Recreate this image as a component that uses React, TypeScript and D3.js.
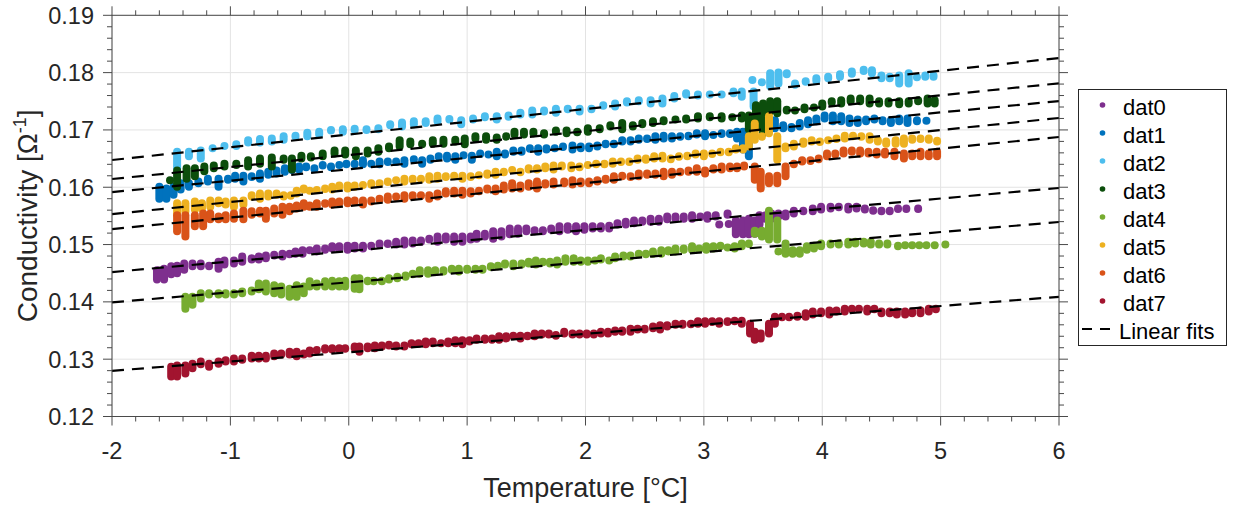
import React from "react";
import * as d3 from "d3";

type Cluster = [number, number, number]; // [temperature, value a, value b] (vertical run of measurements)

const seriesNames = ["dat0", "dat1", "dat2", "dat3", "dat4", "dat5", "dat6", "dat7"];
const seriesColors = ["#7E2F8E", "#0072BD", "#4DBEEE", "#0C4E0C", "#77AC30", "#EDB120", "#D95319", "#A2142F"];

const dat0: Cluster[] = [
  [-1.62,0.1455,0.1439],[-1.56,0.1458,0.1439],[-1.50,0.1462,0.1448],[-1.45,0.1463,0.1450],[-1.39,0.1467,0.1456],[-1.32,0.1467,0.1462],[-1.25,0.1467,0.1462],[-1.18,0.1463,0.1462],[-1.10,0.1470,0.1458],[-1.05,0.1472,0.1465],[-0.97,0.1472,0.1467],[-0.90,0.1479,0.1470],[-0.82,0.1476,0.1474],[-0.76,0.1479,0.1474],[-0.70,0.1481,0.1476],[-0.63,0.1482,0.1481],[-0.56,0.1484,0.1479],[-0.50,0.1484,0.1483],[-0.45,0.1488,0.1484],[-0.39,0.1490,0.1484],[-0.33,0.1490,0.1490],[-0.27,0.1493,0.1488],[-0.20,0.1493,0.1491],[-0.14,0.1497,0.1493],[-0.08,0.1497,0.1493],[-0.01,0.1498,0.1491],[0.05,0.1498,0.1493],[0.12,0.1498,0.1493],[0.19,0.1498,0.1497],[0.26,0.1502,0.1500],[0.33,0.1502,0.1501],[0.40,0.1505,0.1500],[0.47,0.1507,0.1500],[0.54,0.1507,0.1502],[0.61,0.1507,0.1505],[0.68,0.1510,0.1509],[0.75,0.1514,0.1505],[0.82,0.1514,0.1509],[0.89,0.1514,0.1505],[0.96,0.1514,0.1505],[1.03,0.1514,0.1509],[1.08,0.1519,0.1510],[1.15,0.1519,0.1514],[1.22,0.1523,0.1510],[1.29,0.1523,0.1514],[1.36,0.1528,0.1518],[1.43,0.1528,0.1519],[1.50,0.1528,0.1523],[1.57,0.1525,0.1523],[1.64,0.1525,0.1523],[1.71,0.1528,0.1526],[1.78,0.1532,0.1523],[1.85,0.1532,0.1526],[1.92,0.1532,0.1523],[1.99,0.1532,0.1526],[2.06,0.1532,0.1528],[2.13,0.1532,0.1528],[2.20,0.1533,0.1528],[2.27,0.1537,0.1535],[2.34,0.1540,0.1535],[2.41,0.1542,0.1537],[2.48,0.1542,0.1540],[2.55,0.1545,0.1540],[2.62,0.1545,0.1540],[2.69,0.1549,0.1544],[2.76,0.1549,0.1545],[2.83,0.1549,0.1545],[2.90,0.1551,0.1545],[2.97,0.1549,0.1548],[3.03,0.1551,0.1545],[3.10,0.1551,0.1549],[3.13,0.1535,0.1535],[3.20,0.1554,0.1552],[3.21,0.1536,0.1536],[3.27,0.1542,0.1518],[3.33,0.1542,0.1518],[3.38,0.1545,0.1518],[3.43,0.1542,0.1519],[3.47,0.1551,0.1535],[3.52,0.1551,0.1545],[3.57,0.1554,0.1545],[3.63,0.1554,0.1549],[3.69,0.1554,0.1549],[3.76,0.1559,0.1554],[3.84,0.1559,0.1558],[3.92,0.1563,0.1558],[3.99,0.1566,0.1561],[4.07,0.1566,0.1563],[4.14,0.1566,0.1565],[4.22,0.1566,0.1561],[4.29,0.1566,0.1563],[4.36,0.1563,0.1561],[4.43,0.1560,0.1559],[4.50,0.1559,0.1558],[4.57,0.1559,0.1558],[4.64,0.1563,0.1562],[4.71,0.1563,0.1562],[4.81,0.1563,0.1562],
];

const dat1: Cluster[] = [
  [-1.60,0.1601,0.1580],[-1.54,0.1598,0.1580],[-1.48,0.1601,0.1587],[-1.42,0.1607,0.1596],[-1.35,0.1607,0.1601],[-1.27,0.1610,0.1607],[-1.19,0.1615,0.1610],[-1.10,0.1615,0.1601],[-1.02,0.1615,0.1613],[-0.96,0.1620,0.1615],[-0.89,0.1620,0.1610],[-0.82,0.1619,0.1618],[-0.75,0.1624,0.1615],[-0.68,0.1627,0.1622],[-0.61,0.1629,0.1624],[-0.54,0.1633,0.1627],[-0.48,0.1630,0.1630],[-0.42,0.1636,0.1631],[-0.36,0.1636,0.1635],[-0.29,0.1633,0.1632],[-0.22,0.1639,0.1638],[-0.15,0.1636,0.1635],[-0.08,0.1639,0.1639],[-0.02,0.1641,0.1640],[0.05,0.1641,0.1640],[0.12,0.1647,0.1640],[0.19,0.1641,0.1641],[0.26,0.1645,0.1640],[0.33,0.1645,0.1644],[0.40,0.1645,0.1644],[0.47,0.1647,0.1641],[0.55,0.1649,0.1648],[0.62,0.1647,0.1641],[0.69,0.1650,0.1648],[0.76,0.1654,0.1653],[0.83,0.1655,0.1650],[0.90,0.1654,0.1648],[0.97,0.1656,0.1656],[1.04,0.1655,0.1648],[1.11,0.1659,0.1658],[1.18,0.1657,0.1657],[1.25,0.1662,0.1654],[1.32,0.1659,0.1657],[1.39,0.1664,0.1662],[1.46,0.1664,0.1662],[1.53,0.1668,0.1667],[1.60,0.1668,0.1662],[1.67,0.1668,0.1666],[1.74,0.1668,0.1668],[1.81,0.1671,0.1670],[1.89,0.1673,0.1666],[1.96,0.1671,0.1668],[2.03,0.1671,0.1668],[2.10,0.1673,0.1671],[2.17,0.1676,0.1675],[2.24,0.1676,0.1675],[2.31,0.1682,0.1680],[2.38,0.1682,0.1680],[2.45,0.1685,0.1683],[2.52,0.1685,0.1684],[2.59,0.1689,0.1683],[2.66,0.1690,0.1685],[2.73,0.1689,0.1685],[2.80,0.1689,0.1688],[2.87,0.1690,0.1689],[2.94,0.1694,0.1692],[3.01,0.1694,0.1689],[3.08,0.1691,0.1691],[3.15,0.1694,0.1693],[3.22,0.1694,0.1693],[3.28,0.1697,0.1685],[3.33,0.1697,0.1666],[3.38,0.1703,0.1654],[3.60,0.1717,0.1703],[3.67,0.1708,0.1703],[3.74,0.1705,0.1703],[3.81,0.1712,0.1706],[3.88,0.1717,0.1710],[3.95,0.1720,0.1715],[4.02,0.1725,0.1720],[4.09,0.1725,0.1715],[4.16,0.1724,0.1715],[4.23,0.1720,0.1712],[4.30,0.1718,0.1712],[4.37,0.1718,0.1715],[4.44,0.1720,0.1718],[4.51,0.1717,0.1715],[4.58,0.1717,0.1712],[4.65,0.1720,0.1715],[4.72,0.1720,0.1712],[4.80,0.1717,0.1715],[4.88,0.1716,0.1716],
];

const dat2: Cluster[] = [
  [-1.45,0.1662,0.1633],[-1.35,0.1662,0.1654],[-1.25,0.1664,0.1650],[-1.15,0.1668,0.1668],[-1.05,0.1672,0.1672],[-0.95,0.1675,0.1672],[-0.85,0.1682,0.1678],[-0.75,0.1684,0.1678],[-0.65,0.1685,0.1680],[-0.55,0.1689,0.1683],[-0.45,0.1690,0.1688],[-0.35,0.1695,0.1689],[-0.25,0.1697,0.1692],[-0.15,0.1700,0.1699],[-0.05,0.1701,0.1697],[0.05,0.1702,0.1700],[0.15,0.1701,0.1700],[0.25,0.1703,0.1701],[0.35,0.1710,0.1708],[0.45,0.1713,0.1706],[0.55,0.1715,0.1710],[0.65,0.1715,0.1712],[0.75,0.1720,0.1715],[0.85,0.1719,0.1718],[0.95,0.1717,0.1710],[1.05,0.1720,0.1718],[1.15,0.1724,0.1722],[1.25,0.1724,0.1718],[1.35,0.1725,0.1723],[1.45,0.1730,0.1727],[1.55,0.1734,0.1727],[1.65,0.1734,0.1732],[1.75,0.1737,0.1730],[1.85,0.1737,0.1736],[1.95,0.1737,0.1732],[2.05,0.1737,0.1736],[2.15,0.1743,0.1742],[2.25,0.1746,0.1741],[2.35,0.1750,0.1748],[2.45,0.1752,0.1750],[2.55,0.1752,0.1746],[2.65,0.1755,0.1746],[2.75,0.1759,0.1755],[2.85,0.1764,0.1762],[2.95,0.1762,0.1760],[3.05,0.1762,0.1762],[3.15,0.1762,0.1762],[3.25,0.1767,0.1764],[3.32,0.1767,0.1758],[3.42,0.1767,0.1741],[3.41,0.1787,0.1787],[3.49,0.1783,0.1783],[3.56,0.1799,0.1776],[3.63,0.1800,0.1781],[3.70,0.1799,0.1797],[3.77,0.1781,0.1779],[3.86,0.1785,0.1784],[3.95,0.1790,0.1786],[4.05,0.1793,0.1790],[4.15,0.1797,0.1793],[4.25,0.1802,0.1798],[4.35,0.1805,0.1803],[4.42,0.1804,0.1799],[4.50,0.1795,0.1790],[4.57,0.1793,0.1790],[4.65,0.1795,0.1781],[4.73,0.1799,0.1781],[4.80,0.1792,0.1792],[4.87,0.1795,0.1793],[4.94,0.1795,0.1793],
];

const dat3: Cluster[] = [
  [-1.51,0.1612,0.1612],[-1.45,0.1629,0.1601],[-1.37,0.1633,0.1615],[-1.30,0.1633,0.1619],[-1.22,0.1636,0.1628],[-1.14,0.1638,0.1633],[-1.05,0.1641,0.1636],[-0.95,0.1641,0.1639],[-0.85,0.1647,0.1636],[-0.75,0.1650,0.1641],[-0.65,0.1652,0.1636],[-0.55,0.1650,0.1648],[-0.48,0.1650,0.1631],[-0.40,0.1655,0.1650],[-0.32,0.1654,0.1652],[-0.22,0.1659,0.1654],[-0.12,0.1664,0.1659],[-0.03,0.1664,0.1657],[0.06,0.1664,0.1654],[0.16,0.1664,0.1659],[0.25,0.1668,0.1662],[0.34,0.1671,0.1668],[0.43,0.1682,0.1671],[0.52,0.1680,0.1675],[0.62,0.1676,0.1675],[0.71,0.1682,0.1676],[0.80,0.1683,0.1676],[0.90,0.1683,0.1680],[0.98,0.1685,0.1675],[1.07,0.1689,0.1685],[1.16,0.1689,0.1683],[1.25,0.1687,0.1683],[1.33,0.1689,0.1688],[1.40,0.1697,0.1692],[1.48,0.1697,0.1692],[1.56,0.1697,0.1694],[1.65,0.1694,0.1692],[1.75,0.1699,0.1697],[1.84,0.1699,0.1694],[1.93,0.1697,0.1696],[2.02,0.1703,0.1697],[2.12,0.1703,0.1701],[2.21,0.1708,0.1706],[2.31,0.1712,0.1701],[2.40,0.1708,0.1706],[2.48,0.1712,0.1710],[2.57,0.1715,0.1712],[2.66,0.1717,0.1715],[2.76,0.1718,0.1718],[2.85,0.1720,0.1718],[2.95,0.1724,0.1720],[3.05,0.1724,0.1722],[3.15,0.1724,0.1720],[3.24,0.1722,0.1722],[3.32,0.1725,0.1720],[3.38,0.1725,0.1701],[3.44,0.1743,0.1706],[3.50,0.1746,0.1694],[3.56,0.1750,0.1732],[3.62,0.1750,0.1729],[3.70,0.1735,0.1734],[3.77,0.1734,0.1734],[3.85,0.1739,0.1736],[3.93,0.1739,0.1739],[4.00,0.1746,0.1741],[4.08,0.1750,0.1748],[4.16,0.1752,0.1746],[4.24,0.1755,0.1750],[4.32,0.1755,0.1750],[4.40,0.1755,0.1746],[4.48,0.1750,0.1746],[4.56,0.1750,0.1746],[4.65,0.1750,0.1745],[4.73,0.1750,0.1746],[4.81,0.1752,0.1750],[4.89,0.1755,0.1746],[4.95,0.1752,0.1746],
];

const dat4: Cluster[] = [
  [-1.38,0.1409,0.1388],[-1.32,0.1409,0.1395],[-1.25,0.1415,0.1406],[-1.18,0.1415,0.1413],[-1.10,0.1415,0.1413],[-1.04,0.1415,0.1413],[-0.97,0.1415,0.1413],[-0.90,0.1418,0.1415],[-0.82,0.1420,0.1418],[-0.76,0.1432,0.1422],[-0.70,0.1432,0.1418],[-0.63,0.1429,0.1415],[-0.57,0.1427,0.1413],[-0.50,0.1423,0.1409],[-0.44,0.1429,0.1409],[-0.38,0.1427,0.1415],[-0.33,0.1436,0.1427],[-0.27,0.1432,0.1427],[-0.20,0.1436,0.1427],[-0.14,0.1437,0.1427],[-0.08,0.1436,0.1427],[-0.03,0.1437,0.1427],[0.05,0.1441,0.1423],[0.09,0.1441,0.1422],[0.16,0.1437,0.1436],[0.21,0.1437,0.1436],[0.28,0.1437,0.1436],[0.34,0.1441,0.1439],[0.41,0.1444,0.1441],[0.48,0.1446,0.1444],[0.54,0.1449,0.1448],[0.60,0.1455,0.1449],[0.67,0.1455,0.1449],[0.73,0.1455,0.1453],[0.80,0.1455,0.1453],[0.87,0.1458,0.1456],[0.93,0.1458,0.1453],[1.00,0.1458,0.1456],[1.07,0.1458,0.1456],[1.13,0.1458,0.1456],[1.20,0.1462,0.1461],[1.26,0.1463,0.1462],[1.32,0.1467,0.1465],[1.39,0.1467,0.1462],[1.46,0.1467,0.1465],[1.52,0.1470,0.1467],[1.58,0.1472,0.1465],[1.64,0.1470,0.1469],[1.70,0.1470,0.1467],[1.76,0.1472,0.1465],[1.83,0.1476,0.1470],[1.90,0.1476,0.1470],[1.96,0.1472,0.1470],[2.02,0.1472,0.1470],[2.08,0.1472,0.1472],[2.13,0.1476,0.1474],[2.20,0.1472,0.1472],[2.25,0.1479,0.1476],[2.32,0.1481,0.1479],[2.38,0.1481,0.1479],[2.45,0.1484,0.1483],[2.51,0.1484,0.1483],[2.57,0.1488,0.1484],[2.64,0.1490,0.1484],[2.70,0.1490,0.1488],[2.76,0.1493,0.1488],[2.83,0.1493,0.1491],[2.90,0.1497,0.1491],[2.96,0.1493,0.1492],[3.02,0.1497,0.1491],[3.08,0.1497,0.1493],[3.14,0.1498,0.1497],[3.20,0.1495,0.1495],[3.26,0.1497,0.1493],[3.32,0.1502,0.1497],[3.38,0.1502,0.1501],[3.43,0.1524,0.1519],[3.49,0.1524,0.1514],[3.55,0.1559,0.1509],[3.62,0.1542,0.1509],[3.63,0.1488,0.1488],[3.69,0.1502,0.1484],[3.75,0.1490,0.1484],[3.81,0.1490,0.1484],[3.87,0.1497,0.1491],[3.93,0.1498,0.1493],[3.99,0.1502,0.1497],[4.07,0.1502,0.1500],[4.14,0.1502,0.1500],[4.22,0.1505,0.1500],[4.28,0.1505,0.1502],[4.35,0.1505,0.1502],[4.41,0.1505,0.1500],[4.48,0.1502,0.1500],[4.55,0.1502,0.1500],[4.64,0.1498,0.1497],[4.70,0.1499,0.1499],[4.76,0.1499,0.1499],[4.82,0.1499,0.1499],[4.88,0.1499,0.1499],[4.95,0.1499,0.1499],[5.04,0.1500,0.1500],
];

const dat5: Cluster[] = [
  [-1.45,0.1572,0.1552],[-1.38,0.1572,0.1558],[-1.30,0.1575,0.1561],[-1.24,0.1572,0.1563],[-1.17,0.1577,0.1566],[-1.10,0.1577,0.1572],[-1.04,0.1575,0.1570],[-0.97,0.1577,0.1566],[-0.89,0.1577,0.1570],[-0.82,0.1586,0.1584],[-0.75,0.1589,0.1580],[-0.68,0.1589,0.1584],[-0.61,0.1589,0.1587],[-0.55,0.1586,0.1584],[-0.49,0.1586,0.1585],[-0.44,0.1594,0.1589],[-0.38,0.1598,0.1596],[-0.33,0.1594,0.1594],[-0.27,0.1595,0.1595],[-0.20,0.1598,0.1597],[-0.14,0.1601,0.1596],[-0.08,0.1603,0.1601],[-0.01,0.1603,0.1598],[0.05,0.1603,0.1601],[0.12,0.1604,0.1604],[0.19,0.1607,0.1605],[0.26,0.1607,0.1606],[0.33,0.1610,0.1609],[0.40,0.1612,0.1612],[0.47,0.1615,0.1610],[0.54,0.1615,0.1613],[0.61,0.1615,0.1614],[0.68,0.1619,0.1613],[0.75,0.1620,0.1615],[0.82,0.1619,0.1618],[0.89,0.1620,0.1619],[0.96,0.1620,0.1615],[1.03,0.1619,0.1618],[1.10,0.1621,0.1621],[1.17,0.1624,0.1622],[1.24,0.1627,0.1622],[1.31,0.1627,0.1626],[1.38,0.1630,0.1630],[1.45,0.1627,0.1626],[1.52,0.1633,0.1631],[1.59,0.1633,0.1631],[1.66,0.1636,0.1633],[1.73,0.1638,0.1631],[1.80,0.1638,0.1636],[1.88,0.1638,0.1633],[1.95,0.1636,0.1635],[2.02,0.1639,0.1639],[2.09,0.1641,0.1640],[2.16,0.1641,0.1640],[2.23,0.1645,0.1641],[2.30,0.1645,0.1644],[2.37,0.1645,0.1644],[2.44,0.1650,0.1648],[2.51,0.1650,0.1648],[2.58,0.1654,0.1650],[2.65,0.1655,0.1650],[2.72,0.1650,0.1649],[2.79,0.1654,0.1653],[2.86,0.1655,0.1654],[2.93,0.1659,0.1657],[3.00,0.1659,0.1654],[3.07,0.1659,0.1658],[3.14,0.1662,0.1661],[3.21,0.1662,0.1661],[3.27,0.1668,0.1666],[3.33,0.1668,0.1666],[3.38,0.1689,0.1671],[3.43,0.1711,0.1683],[3.49,0.1689,0.1688],[3.55,0.1724,0.1694],[3.62,0.1689,0.1648],[3.69,0.1671,0.1668],[3.76,0.1676,0.1671],[3.84,0.1680,0.1676],[3.91,0.1682,0.1680],[3.98,0.1680,0.1679],[4.05,0.1682,0.1682],[4.12,0.1685,0.1684],[4.19,0.1690,0.1685],[4.26,0.1690,0.1689],[4.33,0.1689,0.1688],[4.40,0.1689,0.1683],[4.47,0.1682,0.1680],[4.54,0.1680,0.1676],[4.62,0.1682,0.1676],[4.69,0.1685,0.1676],[4.76,0.1685,0.1683],[4.83,0.1685,0.1684],[4.90,0.1685,0.1683],[4.97,0.1681,0.1680],
];

const dat6: Cluster[] = [
  [-1.45,0.1551,0.1523],[-1.38,0.1551,0.1514],[-1.30,0.1551,0.1532],[-1.23,0.1554,0.1532],[-1.17,0.1554,0.1544],[-1.10,0.1549,0.1544],[-1.04,0.1551,0.1544],[-0.97,0.1554,0.1545],[-0.89,0.1559,0.1544],[-0.82,0.1558,0.1552],[-0.75,0.1559,0.1554],[-0.70,0.1559,0.1545],[-0.63,0.1563,0.1554],[-0.56,0.1566,0.1552],[-0.50,0.1566,0.1558],[-0.44,0.1568,0.1563],[-0.38,0.1572,0.1566],[-0.33,0.1568,0.1566],[-0.27,0.1572,0.1566],[-0.20,0.1572,0.1571],[-0.14,0.1575,0.1570],[-0.08,0.1575,0.1572],[-0.01,0.1577,0.1572],[0.05,0.1577,0.1575],[0.12,0.1577,0.1570],[0.19,0.1577,0.1575],[0.26,0.1580,0.1578],[0.33,0.1584,0.1578],[0.40,0.1584,0.1583],[0.47,0.1586,0.1580],[0.54,0.1586,0.1584],[0.61,0.1586,0.1585],[0.68,0.1586,0.1580],[0.75,0.1589,0.1584],[0.82,0.1593,0.1589],[0.89,0.1594,0.1589],[0.96,0.1594,0.1587],[1.03,0.1593,0.1589],[1.10,0.1594,0.1593],[1.17,0.1598,0.1596],[1.24,0.1598,0.1593],[1.31,0.1603,0.1596],[1.38,0.1607,0.1598],[1.45,0.1603,0.1598],[1.52,0.1607,0.1601],[1.59,0.1610,0.1598],[1.66,0.1607,0.1605],[1.73,0.1610,0.1605],[1.82,0.1610,0.1607],[1.89,0.1612,0.1605],[1.96,0.1610,0.1607],[2.03,0.1610,0.1607],[2.10,0.1612,0.1610],[2.17,0.1615,0.1613],[2.24,0.1619,0.1613],[2.31,0.1620,0.1619],[2.38,0.1619,0.1618],[2.45,0.1624,0.1619],[2.52,0.1624,0.1622],[2.59,0.1624,0.1622],[2.66,0.1627,0.1619],[2.73,0.1627,0.1622],[2.80,0.1627,0.1626],[2.87,0.1629,0.1627],[2.94,0.1633,0.1627],[3.01,0.1629,0.1624],[3.08,0.1633,0.1631],[3.15,0.1636,0.1631],[3.22,0.1636,0.1633],[3.28,0.1636,0.1633],[3.34,0.1638,0.1636],[3.43,0.1636,0.1613],[3.48,0.1627,0.1598],[3.55,0.1619,0.1607],[3.62,0.1620,0.1607],[3.69,0.1636,0.1619],[3.76,0.1641,0.1640],[3.83,0.1647,0.1645],[3.90,0.1647,0.1646],[3.97,0.1650,0.1649],[4.04,0.1659,0.1654],[4.11,0.1659,0.1657],[4.18,0.1664,0.1659],[4.25,0.1664,0.1662],[4.32,0.1664,0.1659],[4.39,0.1662,0.1659],[4.46,0.1662,0.1657],[4.53,0.1662,0.1657],[4.61,0.1662,0.1654],[4.69,0.1659,0.1650],[4.76,0.1659,0.1654],[4.83,0.1662,0.1654],[4.90,0.1659,0.1654],[4.97,0.1662,0.1654],
];

const dat7: Cluster[] = [
  [-1.50,0.1287,0.1270],[-1.45,0.1289,0.1270],[-1.38,0.1289,0.1275],[-1.32,0.1292,0.1284],[-1.25,0.1296,0.1291],[-1.18,0.1292,0.1287],[-1.10,0.1296,0.1292],[-1.04,0.1298,0.1296],[-0.97,0.1301,0.1296],[-0.90,0.1301,0.1299],[-0.82,0.1306,0.1301],[-0.76,0.1306,0.1301],[-0.70,0.1306,0.1301],[-0.63,0.1310,0.1305],[-0.57,0.1310,0.1308],[-0.50,0.1313,0.1308],[-0.44,0.1313,0.1305],[-0.38,0.1310,0.1308],[-0.33,0.1315,0.1310],[-0.27,0.1316,0.1315],[-0.20,0.1319,0.1317],[-0.14,0.1319,0.1317],[-0.08,0.1319,0.1317],[-0.03,0.1319,0.1318],[0.05,0.1322,0.1319],[0.09,0.1322,0.1313],[0.16,0.1322,0.1319],[0.22,0.1324,0.1319],[0.28,0.1324,0.1322],[0.34,0.1325,0.1324],[0.40,0.1324,0.1322],[0.47,0.1324,0.1322],[0.53,0.1328,0.1326],[0.59,0.1328,0.1327],[0.65,0.1331,0.1326],[0.71,0.1331,0.1328],[0.78,0.1328,0.1328],[0.84,0.1331,0.1328],[0.90,0.1333,0.1328],[0.96,0.1333,0.1326],[1.02,0.1333,0.1331],[1.08,0.1336,0.1334],[1.15,0.1336,0.1334],[1.21,0.1336,0.1334],[1.27,0.1340,0.1334],[1.33,0.1340,0.1336],[1.39,0.1341,0.1340],[1.45,0.1341,0.1336],[1.51,0.1341,0.1340],[1.57,0.1345,0.1340],[1.63,0.1345,0.1343],[1.69,0.1345,0.1343],[1.75,0.1342,0.1341],[1.82,0.1348,0.1345],[1.89,0.1345,0.1343],[1.95,0.1345,0.1343],[2.01,0.1345,0.1343],[2.07,0.1345,0.1343],[2.13,0.1348,0.1345],[2.19,0.1348,0.1345],[2.25,0.1350,0.1348],[2.31,0.1350,0.1348],[2.38,0.1353,0.1348],[2.44,0.1353,0.1352],[2.50,0.1353,0.1352],[2.57,0.1357,0.1354],[2.63,0.1359,0.1352],[2.69,0.1359,0.1357],[2.76,0.1362,0.1360],[2.82,0.1362,0.1360],[2.89,0.1362,0.1361],[2.95,0.1366,0.1362],[3.01,0.1366,0.1362],[3.07,0.1366,0.1365],[3.13,0.1366,0.1362],[3.20,0.1366,0.1365],[3.26,0.1367,0.1366],[3.32,0.1367,0.1362],[3.39,0.1362,0.1345],[3.43,0.1348,0.1334],[3.48,0.1345,0.1336],[3.55,0.1362,0.1345],[3.60,0.1374,0.1362],[3.66,0.1374,0.1373],[3.72,0.1374,0.1373],[3.79,0.1376,0.1374],[3.86,0.1380,0.1374],[3.92,0.1383,0.1378],[3.99,0.1383,0.1380],[4.06,0.1385,0.1378],[4.12,0.1385,0.1383],[4.19,0.1388,0.1383],[4.25,0.1388,0.1387],[4.31,0.1388,0.1387],[4.38,0.1388,0.1383],[4.44,0.1388,0.1387],[4.50,0.1383,0.1380],[4.57,0.1383,0.1380],[4.63,0.1383,0.1378],[4.70,0.1383,0.1378],[4.76,0.1383,0.1380],[4.83,0.1385,0.1380],[4.90,0.1388,0.1383],[4.96,0.1388,0.1387],
];

const allSeries: Cluster[][] = [dat0, dat1, dat2, dat3, dat4, dat5, dat6, dat7];

// linear fits: value = intercept + slope * T
const fitIntercepts = [0.14887, 0.16313, 0.1692, 0.16561, 0.14342, 0.15951, 0.15672, 0.1312];
const fitSlopes = [0.001833, 0.001985, 0.002225, 0.0020875, 0.0017525, 0.002095, 0.0020075, 0.00161375];
const fitLabel = "Linear fits";

const xTicks = [-2, -1, 0, 1, 2, 3, 4, 5, 6];
const yTicks = [0.12, 0.13, 0.14, 0.15, 0.16, 0.17, 0.18, 0.19];
const xTitle = "Temperature [°C]";

const FONT = "'Liberation Sans', Arial, Helvetica, sans-serif";

export default function App() {
  const W = 1234;
  const H = 505;
  const left = 112, right = 1059, top = 15.3, bottom = 416.5;
  const x = d3.scaleLinear().domain([-2, 6]).range([left, right]);
  const y = d3.scaleLinear().domain([0.12, 0.19]).range([bottom, top]);

  const xMinor = x.ticks(40).filter((t) => !xTicks.some((m) => Math.abs(m - t) < 1e-9));
  const yMinor = y.ticks(35).filter((t) => !yTicks.some((m) => Math.abs(m - t) < 1e-9));

  const axisColor = "#4a4a4a";
  const gridColor = "#e3e3e3";
  const textColor = "#262626";
  const majLen = 9;
  const minLen = 5;
  const dotW = 8;

  const legendX = 1078.5, legendY = 89.5, legendW = 148, legendH = 256;
  const rowY = (i: number) => 105 + 28 * i;

  return (
    <svg
      width={W}
      height={H}
      style={{ position: "absolute", left: 0, top: 0, background: "#fff", display: "block" }}
      fontFamily={FONT}
    >
      <rect x={0} y={0} width={W} height={H} fill="#fff" />
      {/* grid */}
      {xTicks.map((t) => (
        <line key={"gx" + t} x1={x(t)} x2={x(t)} y1={top} y2={bottom} stroke={gridColor} strokeWidth={1} />
      ))}
      {yTicks.map((t) => (
        <line key={"gy" + t} x1={left} x2={right} y1={y(t)} y2={y(t)} stroke={gridColor} strokeWidth={1} />
      ))}

      {/* data */}
      {allSeries.map((s, si) => (
        <g key={"s" + si} fill={seriesColors[si]}>
          {s.map((c, ci) => {
            const hi = Math.max(c[1], c[2]);
            const lo = Math.min(c[1], c[2]);
            const yt = y(hi) - dotW / 2;
            const h = y(lo) - y(hi) + dotW;
            return (
              <rect key={ci} x={x(c[0]) - dotW / 2} y={yt} width={dotW} height={h} rx={dotW / 2} ry={dotW / 2} />
            );
          })}
        </g>
      ))}

      {/* linear fits */}
      {fitIntercepts.map((b, i) => {
        const d = d3
          .line<number>()
          .x((t) => x(t))
          .y((t) => y(b + fitSlopes[i] * t))([-2, 6]);
        return (
          <path key={"fit" + i} d={d || ""} fill="none" stroke="#000" strokeWidth={2.2} strokeDasharray="12 8" />
        );
      })}

      {/* axes box */}
      <rect x={left} y={top} width={right - left} height={bottom - top} fill="none" stroke={axisColor} strokeWidth={1} />
      {xTicks.map((t) => (
        <g key={"xt" + t} stroke={axisColor} strokeWidth={1}>
          <line x1={x(t)} x2={x(t)} y1={bottom} y2={bottom + majLen} />
          <line x1={x(t)} x2={x(t)} y1={top} y2={top - majLen} />
        </g>
      ))}
      {xMinor.map((t) => (
        <g key={"xm" + t} stroke={axisColor} strokeWidth={1}>
          <line x1={x(t)} x2={x(t)} y1={bottom} y2={bottom + minLen} />
          <line x1={x(t)} x2={x(t)} y1={top} y2={top - minLen} />
        </g>
      ))}
      {yTicks.map((t) => (
        <g key={"yt" + t} stroke={axisColor} strokeWidth={1}>
          <line x1={left} x2={left - majLen} y1={y(t)} y2={y(t)} />
          <line x1={right} x2={right + majLen} y1={y(t)} y2={y(t)} />
        </g>
      ))}
      {yMinor.map((t) => (
        <g key={"ym" + t} stroke={axisColor} strokeWidth={1}>
          <line x1={left} x2={left - minLen} y1={y(t)} y2={y(t)} />
          <line x1={right} x2={right + minLen} y1={y(t)} y2={y(t)} />
        </g>
      ))}

      {/* tick labels */}
      {xTicks.map((t) => (
        <text key={"xl" + t} x={x(t)} y={459} textAnchor="middle" fontSize={23.5} fill={textColor}>
          {String(t)}
        </text>
      ))}
      {yTicks.map((t) => (
        <text key={"yl" + t} x={94} y={y(t) + 8.4} textAnchor="end" fontSize={23.5} fill={textColor}>
          {t.toFixed(2)}
        </text>
      ))}

      {/* axis titles */}
      <text x={(left + right) / 2} y={497} textAnchor="middle" fontSize={27} fill={textColor}>
        {xTitle}
      </text>
      <text transform={`translate(37,${(top + bottom) / 2}) rotate(-90)`} textAnchor="middle" fontSize={28} fill={textColor}>
        Conductivity [Ω
        <tspan dy={-11} fontSize={18}>-1</tspan>
        <tspan dy={11}>]</tspan>
      </text>

      {/* legend */}
      <rect x={legendX} y={legendY} width={legendW} height={legendH} fill="#fff" stroke="#262626" strokeWidth={1} />
      {seriesNames.map((n, i) => (
        <g key={"lg" + i}>
          <circle cx={1102.5} cy={rowY(i)} r={2.8} fill={seriesColors[i]} />
          <text x={1123} y={rowY(i) + 10} fontSize={22} fill="#000">
            {n}
          </text>
        </g>
      ))}
      <line x1={1082} x2={1110} y1={rowY(8)} y2={rowY(8)} stroke="#000" strokeWidth={2.2} strokeDasharray="10 8" />
      <text x={1119} y={rowY(8) + 10} fontSize={22} fill="#000">
        {fitLabel}
      </text>
    </svg>
  );
}
